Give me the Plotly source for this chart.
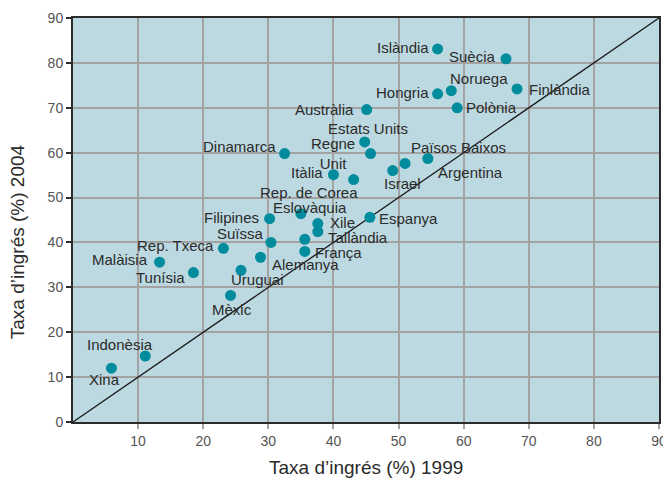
import plotly.graph_objects as go

countries = ["Islàndia", "Suècia", "Noruega", "Hongria", "Finlàndia", "Polònia",
             "Austràlia", "Estats Units", "Regne Unit", "Dinamarca", "Itàlia",
             "Rep. de Corea", "Israel", "Argentina", "Països Baixos", "Espanya",
             "Xile", "Tailàndia", "Eslovàquia", "Filipines", "Suïssa", "",
             "França", "Rep. Txeca", "Alemanya", "Malàisia", "Tunísia",
             "Uruguai", "Mèxic", "Indonèsia", "Xina"]
rate_1999 = [56.0, 66.5, 58.1, 56.0, 68.2, 59.0, 45.1, 44.8, 45.7, 32.5, 40.0,
             43.1, 49.1, 51.0, 54.5, 45.6, 37.6, 37.6, 35.0, 30.2, 30.4, 35.6,
             35.6, 23.1, 28.8, 13.3, 18.5, 25.8, 24.2, 11.1, 5.9]
rate_2004 = [83.1, 80.9, 73.8, 73.1, 74.2, 70.0, 69.6, 62.4, 59.8, 59.8, 55.1,
             54.0, 56.0, 57.6, 58.7, 45.6, 44.2, 42.4, 46.4, 45.3, 40.0, 40.7,
             38.0, 38.7, 36.7, 35.6, 33.3, 33.8, 28.2, 14.7, 12.0]
x_ticks = [10, 20, 30, 40, 50, 60, 70, 80, 90]
y_ticks = [0, 10, 20, 30, 40, 50, 60, 70, 80, 90]
diag = [0, 90]

# label offsets (pixels, text centre relative to point; dy positive = down)
label_offsets = {
    "Islàndia": (-35, -1), "Suècia": (-33, -2), "Noruega": (28, -12),
    "Hongria": (-35, -1), "Finlàndia": (43, 1), "Polònia": (34, 0),
    "Austràlia": (-42, 0), "Estats Units": (3, -13), "Regne Unit": (-38, 0),
    "Dinamarca": (-45, -7), "Itàlia": (-26, -2), "Rep. de Corea": (-45, 13),
    "Israel": (10, 13), "Argentina": (65, 9), "Països Baixos": (31, -11),
    "Espanya": (39, 1), "Xile": (25, -1), "Tailàndia": (40, 6),
    "Eslovàquia": (9, -6), "Filipines": (-38, -1), "Suïssa": (-30, -9),
    "França": (34, 1), "Rep. Txeca": (-48, -3), "Alemanya": (45, 7),
    "Malàisia": (-40, -3), "Tunísia": (-33, 5), "Uruguai": (17, 9),
    "Mèxic": (1, 14), "Indonèsia": (-25, -12), "Xina": (-7, 11),
}

FONT = "Liberation Sans, Arial, Helvetica, sans-serif"

fig = go.Figure()
fig.add_trace(go.Scatter(x=diag, y=diag, mode="lines",
                         line=dict(color="#1a1a1a", width=1.3),
                         hoverinfo="skip", showlegend=False))
fig.add_trace(go.Scatter(x=rate_1999, y=rate_2004, mode="markers",
                         marker=dict(color="#008c9c", size=11),
                         text=countries, showlegend=False))

annotations = []
for name, xv, yv in zip(countries, rate_1999, rate_2004):
    if not name:
        continue
    dx, dy = label_offsets[name]
    txt = name.replace("Regne Unit", "Regne<br>Unit")
    annotations.append(dict(x=xv, y=yv, xref="x", yref="y", text=txt,
                            showarrow=False, xanchor="center", yanchor="middle",
                            xshift=dx, yshift=-dy,
                            font=dict(family=FONT, size=15, color="#2b2b2b")))

annotations.append(dict(text="Taxa d’ingrés (%) 1999", xref="paper", yref="paper",
                        x=0.5, y=0, yshift=-45, xanchor="center", yanchor="middle",
                        showarrow=False,
                        font=dict(family=FONT, size=19, color="#2b2b2b")))
annotations.append(dict(text="Taxa d’ingrés (%) 2004", xref="paper", yref="paper",
                        x=0, y=0.445, xshift=-56, xanchor="center", yanchor="middle",
                        textangle=-90, showarrow=False,
                        font=dict(family=FONT, size=19, color="#2b2b2b")))

fig.update_layout(
    width=671, height=481,
    margin=dict(l=65, r=20, t=10, b=67),
    paper_bgcolor="white",
    plot_bgcolor="#bcd9e1",
    annotations=annotations,
    xaxis=dict(range=[0, 90], tickvals=x_ticks, ticktext=[str(v) for v in x_ticks],
               showgrid=True, gridcolor="#a3a3a3", gridwidth=1.5,
               zeroline=False, showline=True, linecolor="#2b2b2b", linewidth=2,
               mirror=True, ticks="outside", ticklen=5, tickcolor="#a3a3a3",
               tickwidth=1.5, automargin=False,
               tickfont=dict(family=FONT, size=14, color="#555555")),
    yaxis=dict(range=[0, 90], tickvals=y_ticks, ticktext=[str(v) for v in y_ticks],
               showgrid=True, gridcolor="#a3a3a3", gridwidth=1.5,
               zeroline=False, showline=True, linecolor="#2b2b2b", linewidth=2,
               mirror=True, ticks="outside", ticklen=5, tickcolor="#2b2b2b",
               tickwidth=1.5, automargin=False,
               tickfont=dict(family=FONT, size=14, color="#555555")),
)

fig.write_html("out.html")
